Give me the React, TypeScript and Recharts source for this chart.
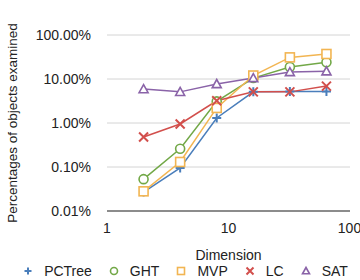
import React from 'react'
import { LineChart, Line, XAxis, YAxis, CartesianGrid, Legend, Label } from 'recharts'

const dimensions = [2, 4, 8, 16, 32, 64]
const pctree = [0.027, 0.095, 1.3, 5.1, 5.2, 5.2]
const ght = [0.053, 0.26, 3.1, 10.5, 18.7, 24]
const mvp = [0.028, 0.13, 2.2, 12, 31, 37]
const lc = [0.48, 0.95, 3.2, 5.1, 5.1, 6.9]
const sat = [5.9, 5.1, 7.7, 10.5, 14.4, 15]

const xTicks = [1, 10, 100]
const yTicks = [0.01, 0.1, 1, 10, 100]

const series = [
  { key: 'PCTree', values: pctree, color: '#4a7ebb', shape: 'plus' },
  { key: 'GHT', values: ght, color: '#72a847', shape: 'circle' },
  { key: 'MVP', values: mvp, color: '#f2b552', shape: 'square' },
  { key: 'LC', values: lc, color: '#d24f4c', shape: 'cross' },
  { key: 'SAT', values: sat, color: '#8a63a8', shape: 'triangle' },
]

const data = dimensions.map((d, i) => {
  const row: Record<string, number> = { dim: d }
  series.forEach((s) => {
    row[s.key] = s.values[i]
  })
  return row
})

const font = '"Liberation Sans", Arial, sans-serif'

function Marker({ cx, cy, shape, color, r = 4.5 }: { cx: number; cy: number; shape: string; color: string; r?: number }) {
  const common = { stroke: color, strokeWidth: 1.6, fill: 'none' }
  if (shape === 'plus')
    return <path d={`M${cx - r},${cy}H${cx + r}M${cx},${cy - r}V${cy + r}`} {...common} strokeWidth={2} />
  if (shape === 'cross')
    return <path d={`M${cx - r},${cy - r}L${cx + r},${cy + r}M${cx - r},${cy + r}L${cx + r},${cy - r}`} {...common} strokeWidth={2} />
  if (shape === 'circle') return <circle cx={cx} cy={cy} r={r} {...common} fill="#fff" />
  if (shape === 'square')
    return <rect x={cx - r} y={cy - r} width={2 * r} height={2 * r} {...common} fill="#fff" />
  return (
    <path
      d={`M${cx},${cy - r}L${cx + r},${cy + r * 0.8}L${cx - r},${cy + r * 0.8}Z`}
      {...common}
      fill="#fff"
    />
  )
}

function LegendContent() {
  return (
    <div
      style={{
        display: 'flex',
        justifyContent: 'center',
        gap: 16,
        fontFamily: font,
        fontSize: 14,
        color: '#222',
        paddingLeft: 20,
        paddingTop: 3,
      }}
    >
      {series.map((s) => (
        <div key={s.key} style={{ display: 'flex', alignItems: 'center' }}>
          <svg width={12} height={12} style={{ marginRight: 10 }}>
            <Marker cx={6} cy={6} shape={s.shape} color={s.color} r={3.5} />
          </svg>
          <span>{s.key}</span>
        </div>
      ))}
    </div>
  )
}

export default function App() {
  return (
    <div style={{ position: 'absolute', left: 0, top: 0, width: 360, height: 280, background: '#fff' }}>
      <LineChart width={360} height={280} data={data} margin={{ top: 35, right: 10, left: 0, bottom: 0 }}>
        <CartesianGrid vertical={false} stroke="#d4d4d4" strokeWidth={1} />
        <XAxis
          dataKey="dim"
          type="number"
          scale="log"
          domain={[1, 100]}
          ticks={xTicks}
          allowDataOverflow
          height={49}
          tickSize={0}
          tickMargin={12}
          axisLine={{ stroke: '#8c8c8c', strokeWidth: 2 }}
          tickLine={false}
          tick={{ fill: '#222', fontSize: 14, fontFamily: font }}
        >
          <Label value="Dimension" position="insideBottom" offset={0} dy={0} style={{ fill: '#222', fontSize: 14, fontFamily: font }} />
        </XAxis>
        <YAxis
          type="number"
          scale="log"
          domain={[0.01, 100]}
          ticks={yTicks}
          allowDataOverflow
          width={107}
          tickSize={0}
          tickMargin={16}
          axisLine={false}
          tickLine={false}
          tickFormatter={(v: number) => `${v.toFixed(2)}%`}
          tick={{ fill: '#222', fontSize: 14, fontFamily: font }}
        >
          <Label
            value="Percentages of objects examined"
            angle={-90}
            position="insideLeft"
            offset={12}
            style={{ textAnchor: 'middle', fill: '#222', fontSize: 13.5, fontFamily: font }}
          />
        </YAxis>
        <Legend verticalAlign="bottom" height={20} content={<LegendContent />} />
        {series.map((s) => (
          <Line
            key={s.key}
            dataKey={s.key}
            stroke={s.color}
            strokeWidth={1.5}
            isAnimationActive={false}
            dot={(p: any) => <Marker key={p.index} cx={p.cx} cy={p.cy} shape={s.shape} color={s.color} />}
            activeDot={false}
          />
        ))}
      </LineChart>
    </div>
  )
}
